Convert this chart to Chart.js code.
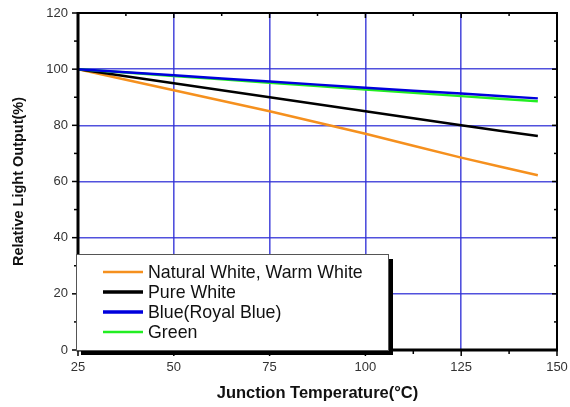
<!DOCTYPE html>
<html><head><meta charset="utf-8">
<script src="https://cdn.jsdelivr.net/npm/chart.js@4"></script>
<style>html,body{margin:0;padding:0;background:#fff}#wrap{width:570px;height:407px}</style>
</head><body><div id="wrap"><canvas id="c" width="570" height="407"></canvas></div>
<script>
const temps = [25, 50, 75, 100, 125, 145];
const naturalWhite = [100, 92.5, 85, 77, 68.5, 62.2];
const pureWhite = [100, 95, 90, 85, 80, 76.2];
const blueRoyal = [100, 97.8, 95.6, 93.4, 91.3, 89.6];
const green = [100, 97.6, 95.2, 92.8, 90.4, 88.6];
const seriesLabels = ['Natural White, Warm White', 'Pure White', 'Blue(Royal Blue)', 'Green'];
const seriesColors = ['#f5901e', '#000000', '#0000dd', '#22ee22'];
const seriesValues = [naturalWhite, pureWhite, blueRoyal, green];

const ds = seriesValues.map((vals, i) => ({
  label: seriesLabels[i],
  data: temps.map((t, j) => ({x: t, y: vals[j]})),
  borderColor: seriesColors[i],
  borderWidth: 2.5,
  pointRadius: 0,
  tension: 0.2,
  fill: false
}));
ds[2].order = 0; ds[3].order = 1; ds[1].order = 2; ds[0].order = 3;

const FONT = '"Liberation Sans", Arial, sans-serif';
const GRID = 'rgba(50,50,215,0.85)';

const framePlugin = {
  id: 'frame',
  afterDatasetsDraw(chart) {
    const {ctx, chartArea: a, scales: {x, y}} = chart;
    ctx.save();
    ctx.strokeStyle = '#000';
    ctx.lineWidth = 2;
    ctx.beginPath();
    ctx.moveTo(a.left, a.top); ctx.lineTo(a.right, a.top); ctx.lineTo(a.right, a.bottom);
    ctx.stroke();
    ctx.lineWidth = 3;
    ctx.beginPath();
    ctx.moveTo(a.left, a.top - 1); ctx.lineTo(a.left, a.bottom); ctx.lineTo(a.right + 1, a.bottom);
    ctx.stroke();
    ctx.lineWidth = 1.5;
    for (let v = 0; v <= 120; v += 10) {
      const py = y.getPixelForValue(v);
      const len = v % 20 === 0 ? 5 : 3;
      ctx.beginPath(); ctx.moveTo(a.left - len - 1, py); ctx.lineTo(a.left, py); ctx.stroke();
      ctx.beginPath(); ctx.moveTo(a.right, py); ctx.lineTo(a.right - len, py); ctx.stroke();
    }
    for (let v = 25; v <= 150; v += 12.5) {
      const px = x.getPixelForValue(v);
      const len = (v - 25) % 25 === 0 ? 5 : 3;
      ctx.beginPath(); ctx.moveTo(px, a.bottom); ctx.lineTo(px, a.bottom + len + 1); ctx.stroke();
      ctx.beginPath(); ctx.moveTo(px, a.top); ctx.lineTo(px, a.top + len); ctx.stroke();
    }
    // legend box
    const bx = a.left - 2, by = 254, bw = 312, bh = 96;
    ctx.fillStyle = '#000';
    ctx.fillRect(bx + 5, by + 5, bw, bh);
    ctx.fillStyle = '#fff';
    ctx.fillRect(bx, by, bw, bh);
    ctx.strokeStyle = '#555';
    ctx.lineWidth = 1;
    ctx.strokeRect(bx + 0.5, by + 0.5, bw, bh);
    ctx.font = '17.8px ' + FONT;
    ctx.textBaseline = 'middle';
    const rows = [272, 292, 312, 332];
    chart.data.datasets.forEach((d, i) => {
      ctx.strokeStyle = d.borderColor;
      ctx.lineWidth = i === 0 || i === 3 ? 2.5 : 3.5;
      ctx.beginPath(); ctx.moveTo(103, rows[i]); ctx.lineTo(143, rows[i]); ctx.stroke();
      ctx.fillStyle = '#111';
      ctx.fillText(d.label, 148, rows[i] + 1);
    });
    ctx.restore();
  }
};

new Chart(document.getElementById('c'), {
  type: 'line',
  data: {datasets: ds},
  options: {
    responsive: false,
    animation: false,
    layout: {padding: {top: 13, right: 13, left: 0, bottom: 0}},
    plugins: {legend: {display: false}, tooltip: {enabled: false}},
    scales: {
      x: {
        type: 'linear', min: 25, max: 150,
        afterFit(s) { s.height = 57; s.paddingLeft = 0; s.paddingRight = 0; },
        ticks: {stepSize: 25, padding: 10, color: '#333', font: {family: FONT, size: 13}},
        grid: {color: GRID, lineWidth: 1.6, drawTicks: false},
        border: {display: false},
        title: {display: true, text: 'Junction Temperature(°C)', color: '#111',
          font: {family: FONT, size: 16.5, weight: 'bold'}, padding: {top: 10}}
      },
      y: {
        min: 0, max: 120,
        afterFit(s) { s.width = 78; s.paddingTop = 0; s.paddingBottom = 0; },
        ticks: {stepSize: 20, padding: 10, color: '#333', font: {family: FONT, size: 13}},
        grid: {color: GRID, lineWidth: 1.6, drawTicks: false},
        border: {display: false},
        title: {display: true, text: 'Relative Light Output(%)', color: '#111',
          font: {family: FONT, size: 14.5, weight: 'bold'}, padding: {top: 10, bottom: 0}}
      }
    }
  },
  plugins: [framePlugin]
});
</script></body></html>
